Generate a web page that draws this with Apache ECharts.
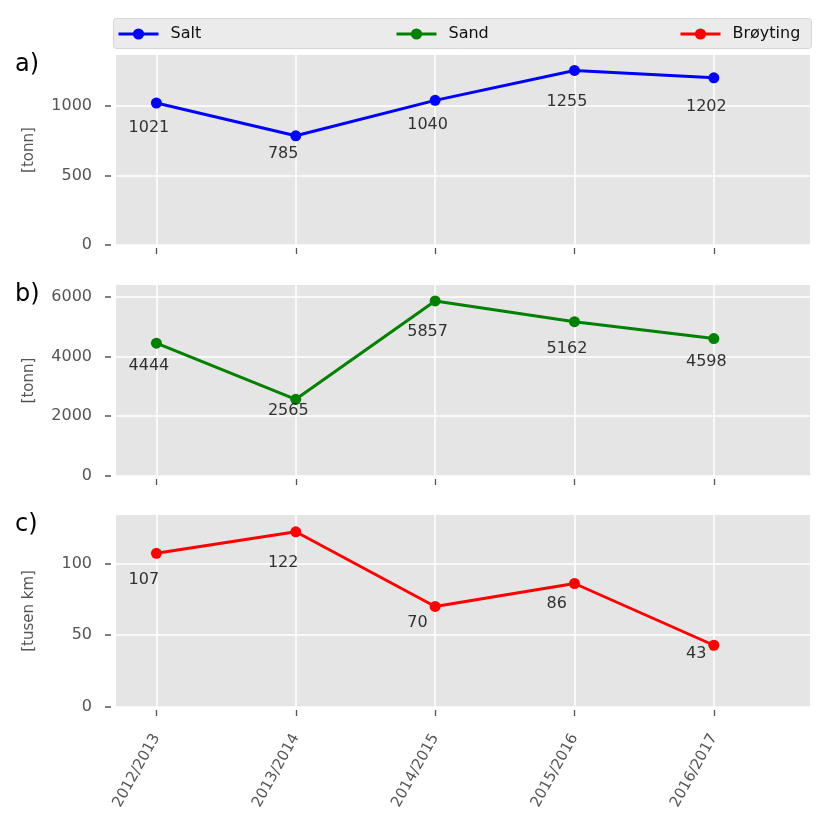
<!DOCTYPE html>
<html>
<head>
<meta charset="utf-8">
<script src="https://cdn.jsdelivr.net/npm/echarts@6/dist/echarts.min.js"></script>
<style>html,body{margin:0;padding:0;background:#fff;}#c{width:833px;height:833px;}</style>
</head>
<body>
<div id="c"></div>
<script>
const categories = ['2012/2013', '2013/2014', '2014/2015', '2015/2016', '2016/2017'];
const salt = [1021, 785, 1040, 1255, 1202];
const sand = [4444, 2565, 5857, 5162, 4598];
const broyting = [107, 122, 70, 86, 43];
const seriesNames = ['Salt', 'Sand', 'Brøyting'];
const seriesValues = [salt, sand, broyting];
const seriesColors = ['#0000ff', '#008000', '#ff0000'];
const yTicks = [[0, 500, 1000], [0, 2000, 4000, 6000], [0, 50, 100]];
const yMax = [1366, 6390, 133.7];
const yNames = ['[tonn]', '[tonn]', '[tusen km]'];
const panelLabels = ['a)', 'b)', 'c)'];

const FONT = 'DejaVu Sans';
const gridTops = [55, 285, 515];
const gridHeights = [190, 191, 192];
const xIdx = categories.map((c, i) => i);

const grids = [], xAxes = [], yAxes = [], series = [], graphics = [];

graphics.push({
  type: 'rect', z: 0,
  shape: { x: 113.5, y: 18.5, width: 698, height: 30, r: 3 },
  style: { fill: '#ebebeb', stroke: '#d6d6d6', lineWidth: 1 }
});

for (let k = 0; k < 3; k++) {
  grids.push({
    left: 116, right: 23, top: gridTops[k], height: gridHeights[k],
    show: true, backgroundColor: '#e5e5e5', borderWidth: 0
  });
  xAxes.push({
    type: 'value', gridIndex: k, min: -0.29, max: 4.69,
    offset: 3,
    axisLine: { show: false, onZero: false },
    axisTick: { show: true, length: 6, customValues: xIdx, lineStyle: { color: '#555555', width: 1.3 } },
    axisLabel: {
      show: k === 2, customValues: xIdx, rotate: 61, margin: 25,
      fontFamily: FONT, fontSize: 15, color: '#555555',
      formatter: v => categories[Math.round(v)]
    },
    splitLine: { show: true, customValues: xIdx, lineStyle: { color: '#ffffff', width: 1.5 } }
  });
  yAxes.push({
    type: 'value', gridIndex: k, min: 0, max: yMax[k],
    offset: 5,
    name: yNames[k], nameLocation: 'middle', nameGap: 74,
    nameTextStyle: { fontFamily: FONT, fontSize: 15, color: '#555555' },
    axisLine: { show: false, onZero: false },
    axisTick: { show: true, length: 6, customValues: yTicks[k], lineStyle: { color: '#555555', width: 1.5 } },
    axisLabel: {
      customValues: yTicks[k], margin: 19,
      fontFamily: FONT, fontSize: 16, color: '#555555',
      formatter: v => String(v)
    },
    splitLine: { show: true, customValues: yTicks[k], lineStyle: { color: '#ffffff', width: 1.5 } }
  });
  const vals = seriesValues[k];
  series.push({
    name: seriesNames[k], type: 'line', xAxisIndex: k, yAxisIndex: k,
    data: vals.map((v, i) => [i, v]),
    color: seriesColors[k],
    symbol: 'circle', symbolSize: 11, showSymbol: true,
    lineStyle: { width: 3, color: seriesColors[k] },
    itemStyle: { color: seriesColors[k] },
    z: 3
  });
  series.push({
    name: seriesNames[k] + '_labels', type: 'scatter', xAxisIndex: k, yAxisIndex: k,
    data: vals.map((v, i) => [i - 0.2, v * 0.8, v]),
    symbolSize: 0, silent: true, z: 4,
    label: {
      show: true, position: [0, 0], align: 'left', verticalAlign: 'bottom', offset: [0, 4],
      fontFamily: FONT, fontSize: 16, color: '#000000',
      formatter: p => String(p.data[2])
    }
  });
  graphics.push({
    type: 'text', left: 15, top: gridTops[k] - 2,
    style: { text: panelLabels[k], fontFamily: FONT, fontSize: 24, fill: '#000000' }
  });
}

const legendLefts = [117, 395, 679];
const legends = seriesNames.map((n, k) => ({
  data: [n], left: legendLefts[k], top: 26, itemWidth: 40, itemHeight: 14, itemGap: 0,
  lineStyle: { width: 3 },
  textStyle: { fontFamily: FONT, fontSize: 16, color: '#111111', padding: [0, 0, 0, 7] },
  padding: 0
}));

const chart = echarts.init(document.getElementById('c'), null, { renderer: 'canvas' });
chart.setOption({
  animation: false,
  backgroundColor: '#ffffff',
  grid: grids, xAxis: xAxes, yAxis: yAxes, series: series,
  legend: legends, graphic: graphics
});
</script>
</body>
</html>
